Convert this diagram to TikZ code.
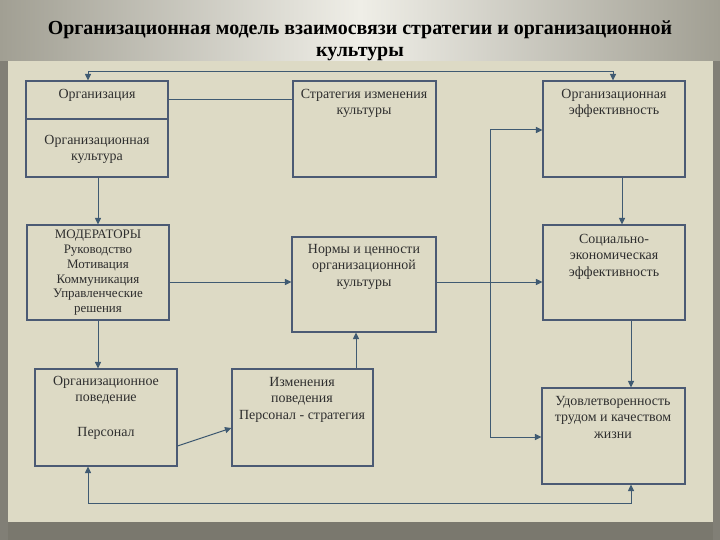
\documentclass[tikz,border=0pt]{standalone}
\usepackage{fontspec}
\setmainfont{Liberation Serif}
\usetikzlibrary{arrows.meta,calc}
\definecolor{panel}{HTML}{DDDAC5}
\definecolor{edgegray}{HTML}{A19F93}
\definecolor{midgray}{HTML}{EFEEE7}
\definecolor{band}{HTML}{7A786E}
\definecolor{boxline}{HTML}{4B5A74}
\definecolor{conncol}{HTML}{3F5A72}
\definecolor{txt}{HTML}{2E2E2E}
\begin{document}
\begin{tikzpicture}[x=1bp,y=-1bp,
  box/.style={draw=boxline, line width=1.1bp, fill=panel, inner sep=0pt},
  boxtext/.style={text=txt, align=center, inner sep=0pt, anchor=north,
    font=\fontsize{14}{16.5}\selectfont},
  titletext/.style={text=black, inner sep=0pt, font=\bfseries\fontsize{20}{24}\selectfont},
  conn/.style={draw=conncol, line width=1bp},
  tip/.style={-{Triangle[length=6.5bp,width=6bp]}},
  tips/.style={{Triangle[length=6.5bp,width=6bp]}-{Triangle[length=6.5bp,width=6bp]}}]
\useasboundingbox (0,0) rectangle (720,540);
% background
\shade[left color=edgegray, right color=edgegray, middle color=midgray] (0,0) rectangle (720,540);
\fill[band] (0,522) rectangle (720,540);
\fill[edgegray!80!black] (0,61) rectangle (8,540);
\fill[edgegray!80!black] (713,61) rectangle (720,540);
\fill[panel] (8,61) rectangle (713,522);
% title
\node[titletext] (t1) at (360,30) {Организационная модель взаимосвязи стратегии и организационной};
\node[titletext] (t2) at (360,54) {культуры};
% boxes
\node[box, minimum width=142bp, minimum height=96bp] (b1) at (97,129) {};
\node[box, minimum width=143bp, minimum height=96bp] (b2) at (364.5,129) {};
\node[box, minimum width=142bp, minimum height=96bp] (b3) at (614,129) {};
\node[box, minimum width=142bp, minimum height=95bp] (b4) at (98,272.5) {};
\node[box, minimum width=144bp, minimum height=95bp] (b5) at (364,284.5) {};
\node[box, minimum width=142bp, minimum height=95bp] (b9) at (614,272.5) {};
\node[box, minimum width=142bp, minimum height=97bp] (b7) at (106,417.5) {};
\node[box, minimum width=141bp, minimum height=97bp] (b8) at (302.5,417.5) {};
\node[box, minimum width=143bp, minimum height=96bp] (b6) at (613.5,436) {};
\draw[draw=boxline, line width=1.1bp] (b1.west |- 0,119) -- (b1.east |- 0,119);
% texts
\node[boxtext] (b1a) at (97,89) {Организация};
\node[boxtext] (b1b) at (97,135) {Организационная\\культура};
\node[boxtext] (b2t) at (364,89) {Стратегия изменения\\культуры};
\node[boxtext] (b3t) at (614,89) {Организационная\\эффективность};
\node[boxtext, font=\fontsize{13}{14.8}\selectfont] (b4t) at (98,230) {МОДЕРАТОРЫ\\Руководство\\Мотивация\\Коммуникация\\Управленческие\\решения};
\node[boxtext] (b5t) at (364,244) {Нормы и ценности\\организационной\\культуры};
\node[boxtext] (b9t) at (614,234) {Социально-\\экономическая\\эффективность};
\node[boxtext] (b7t) at (106,376) {Организационное\\поведение\\[18bp]Персонал};
\node[boxtext] (b8t) at (302,377) {Изменения\\поведения\\Персонал - стратегия};
\node[boxtext] (b6t) at (613,396) {Удовлетворенность\\трудом и качеством\\жизни};
% helper coordinates
\coordinate (xl) at (88,0);
\coordinate (xr) at (613,0);
\coordinate (xa) at (98,0);
\coordinate (xb) at (356,0);
\coordinate (xc) at (490,0);
\coordinate (xd) at (622,0);
\coordinate (xe) at (631,0);
\coordinate (ytop) at (0,72);
\coordinate (y12) at (0,100);
\coordinate (y3) at (0,130);
\coordinate (ymid) at (0,282);
\coordinate (y6) at (0,437);
\coordinate (y7) at (0,446);
\coordinate (y8) at (0,428);
\coordinate (ybot) at (0,503);
% connectors
\draw[conn, tips] (b1.north -| xl) -- (xl |- ytop) -- (xr |- ytop) -- (b3.north -| xr);
\draw[conn] (b1.east |- y12) -- (b2.west |- y12);
\draw[conn, tip] (b1.south -| xa) -- (b4.north -| xa);
\draw[conn, tip] (b4.south -| xa) -- (b7.north -| xa);
\draw[conn, tip] (b4.east |- ymid) -- (b5.west |- ymid);
\draw[conn, tip] (b5.east |- ymid) -- (b9.west |- ymid);
\draw[conn, tip] (b3.south -| xd) -- (b9.north -| xd);
\draw[conn, tip] (b9.south -| xe) -- (b6.north -| xe);
\draw[conn, tips] (b3.west |- y3) -- (xc |- y3) -- (xc |- y6) -- (b6.west |- y6);
\draw[conn, tip] (b7.east |- y7) -- (b8.west |- y8);
\draw[conn, tip] (b8.north -| xb) -- (b5.south -| xb);
\draw[conn, tips] (b7.south -| xl) -- (xl |- ybot) -- (xe |- ybot) -- (b6.south -| xe);
\end{tikzpicture}
\end{document}
